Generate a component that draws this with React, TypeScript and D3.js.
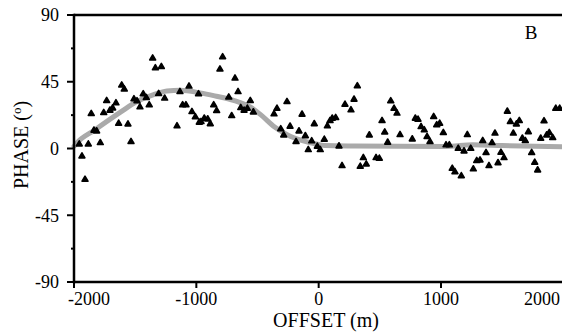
import React from "react";
import * as d3 from "d3";

// Observed phase data (offset in m, phase in degrees)
const offsets: number[] = [
  -1957, -1935, -1910, -1883, -1859, -1837, -1815, -1785, -1757, -1733,
  -1706, -1684, -1657, -1635, -1610, -1589, -1559, -1534, -1510, -1485,
  -1461, -1434, -1409, -1385, -1357, -1335, -1286, -1308, -1259, -1158,
  -1134, -1112, -1085, -1060, -1036, -1008, -982, -976,
  -962, -935, -907, -886, -858, -834, -807, -785, -735, -711,
  -684, -659, -637, -610, -583, -559, -534, -365, -341, -310,
  -286, -259, -234, -185, -161, -136, -109, -85, -57, -36,
  -11, 13, 46,
  71, 93, 111, 139, 166, 191, 215, 264, 289, 316,
  340, 365, 389, 414, 469, 496, 518, 540, 564, 589,
  616, 640, 665, 765, 790, 812, 837, 863, 886, 910,
  940, 965, 989,
  1019, 1041, 1068, 1092, 1114, 1141, 1166, 1188, 1215, 1243,
  1264, 1292, 1319, 1341, 1368, 1392, 1417, 1441, 1466, 1490,
  1515, 1542, 1567, 1591, 1616, 1640, 1665, 1689, 1714, 1741,
  1766, 1790, 1815, 1842, 1864, 1885, 1913, 1938, 1970,
];
const phases: number[] = [
  2.9, -5.2, -20.9, 2.9, 23.4, 12.2, 11.7, 3.8, 24.1, 32.2,
  25.7, 27.2, 30.6, 16.9, 42.6, 39.9, 16.4, 4.5, 33.3, 32.0,
  27.9, 36.7, 34.2, 29.3, 60.8, 54.2, 55.1, 36.9, 33.8, 15.1,
  38.2, 29.3, 29.3, 41.9, 24.7, 21.2, 36.7, 17.6,
  18.0, 20.3, 19.8, 16.6, 29.3, 25.4, 53.4, 61.7, 34.5, 22.0,
  47.3, 38.2, 27.4, 25.7, 27.0, 32.2, 24.5, 23.2, 27.0, 13.1,
  9.0, 31.5, 14.9, 4.5, 11.7, 23.0, 8.5, -0.9, 5.0, 16.6,
  1.4, -0.9, 6.1,
  15.1, 18.7, 20.3, 20.7, 1.6, -11.7, 29.7, 25.9, 33.1, 42.1,
  -12.1, -6.3, -10.6, 9.0, -6.3, -6.7, 18.7, 11.0, 4.1, 32.0,
  27.0, 23.7, 9.2, 6.3, 20.3, 19.6, 14.6, 12.4, 7.9, 4.5,
  21.4, 15.8, 16.9,
  10.6, 2.3, 2.3, -13.5, -15.8, 0.0, -18.5, -1.8, 9.2, 0.0,
  -13.9, -8.3, -7.9, 5.2, -2.9, -11.7, 3.8, 10.2, -9.7, -2.7,
  -6.3, 25.0, 18.0, 10.2, 16.4, 18.7, 6.8, 5.2, 11.2, -2.9,
  -9.4, -14.6, 6.8, 18.5, 9.0, 10.6, 7.2, 27.0, 27.0,
];

// Model curve (smooth fit)
const curveOffsets: number[] = [
  -2000, -1980, -1830, -1620, -1490, -1360, -1240, -1130, -970, -850,
  -690, -560, -470, -360, -250, -140, 0, 50, 300, 660, 1040, 1260, 1500, 1989,
];
const curvePhases: number[] = [
  1.5, 3.5, 12.5, 24.5, 31.5, 36, 38.8, 39.3, 37.5, 35.5,
  32.3, 28, 22.5, 14.5, 9, 5.5, 2.7, 2, 1.7, 1.5, 1.4, 2.6, 2, 1.2,
];

const xTicks: number[] = [-2000, -1000, 0, 1000, 2000];
const yTicks: number[] = [-90, -45, 0, 45, 90];
const yMinorTicks: number[] = [-67.5, -22.5, 22.5, 67.5];

const W = 562;
const H = 335;
const left = 74;
const right = 562;
const top = 15;
const bottom = 282;

const FONT = "'Liberation Serif', 'Times New Roman', Times, serif";

export default function App() {
  const x = d3.scaleLinear().domain([-2000, 1989]).range([left, right]);
  const y = d3.scaleLinear().domain([-90, 90]).range([bottom, top]);

  const line = d3
    .line<number>()
    .x((_, i) => x(curveOffsets[i]))
    .y((d) => y(d))
    .curve(d3.curveMonotoneX);

  const tri = d3.symbol().type(d3.symbolTriangle).size(15)() as string;

  const xLabelPos = (v: number, i: number) => {
    const px = x(v);
    if (i === 0) return { x: 68, anchor: "start" };
    if (px + 20 > W) return { x: 560, anchor: "end" };
    return { x: px, anchor: "middle" };
  };

  const ts = { fontFamily: FONT };

  return (
    <svg
      width={W}
      height={H}
      style={{ position: "absolute", left: 0, top: 0, background: "#fff" }}
    >
      <rect x={0} y={0} width={W} height={H} fill="#fff" />
      {/* model curve */}
      <path
        d={line(curvePhases) || ""}
        fill="none"
        stroke="#aaaaaa"
        strokeWidth={5}
        strokeLinecap="round"
      />
      {/* points */}
      {offsets.map((o, i) => (
        <path
          key={i}
          d={tri}
          transform={`translate(${x(o)},${y(phases[i])})`}
          fill="#000"
          stroke="#000"
          strokeWidth={1.6}
          strokeLinejoin="round"
        />
      ))}
      {/* frame */}
      <line x1={left} x2={right} y1={top} y2={top} stroke="#000" strokeWidth={2.5} />
      <line x1={left} x2={right} y1={bottom} y2={bottom} stroke="#000" strokeWidth={2.5} />
      <line x1={left} x2={left} y1={top - 1.2} y2={bottom + 1.2} stroke="#000" strokeWidth={2.5} />
      {/* y ticks */}
      {yTicks.map((t) => (
        <g key={t}>
          <line x1={left - 7} x2={left} y1={y(t)} y2={y(t)} stroke="#000" strokeWidth={2} />
          <text
            x={59}
            y={y(t)}
            dy="0.35em"
            textAnchor="end"
            fontSize={18}
            fill="#000"
            style={ts}
          >
            {t}
          </text>
        </g>
      ))}
      {yMinorTicks.map((t) => (
        <line key={t} x1={left - 3} x2={left} y1={y(t)} y2={y(t)} stroke="#000" strokeWidth={2} />
      ))}
      {/* x ticks */}
      {xTicks.map((t, i) => {
        const p = xLabelPos(t, i);
        return (
          <g key={t}>
            {x(t) <= W && (
              <line x1={x(t)} x2={x(t)} y1={bottom} y2={bottom + 6} stroke="#000" strokeWidth={2} />
            )}
            <text x={p.x} y={305} textAnchor={p.anchor} fontSize={18} fill="#000" style={ts}>
              {t}
            </text>
          </g>
        );
      })}
      {/* axis titles */}
      <text x={326} y={327} textAnchor="middle" fontSize={20} fill="#000" style={ts}>
        OFFSET (m)
      </text>
      <text
        transform={`translate(28,145) rotate(-90)`}
        textAnchor="middle"
        fontSize={20}
        fill="#000"
        style={ts}
      >
        PHASE (<tspan fontSize={13} dy={-7}>o</tspan>
        <tspan dy={7}>)</tspan>
      </text>
      <text x={531} y={39} textAnchor="middle" fontSize={19} fill="#000" style={ts}>
        B
      </text>
    </svg>
  );
}
